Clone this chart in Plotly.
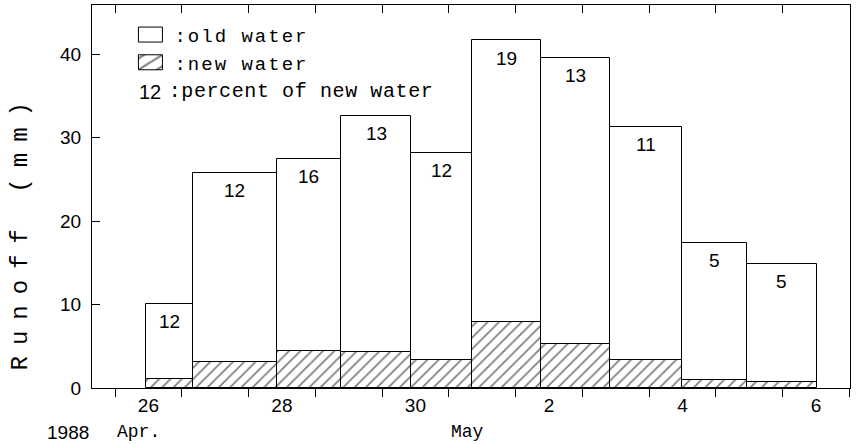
import plotly.graph_objects as go

# ---- data (x in days since 26 Apr 1988 00:00) ----
period_start = [0.46, 1.17, 2.42, 3.39, 4.43, 5.35, 6.38, 7.42, 8.50, 9.47]
period_end   = [1.17, 2.42, 3.39, 4.43, 5.35, 6.38, 7.42, 8.50, 9.47, 10.51]
total_runoff = [10.1, 25.8, 27.5, 32.6, 28.2, 41.7, 39.6, 31.3, 17.4, 14.9]
new_water    = [1.1, 3.1, 4.4, 4.3, 3.3, 7.9, 5.3, 3.4, 0.95, 0.75]
pct_new      = [12, 12, 16, 13, 12, 19, 13, 11, 5, 5]

day_tick_pos    = [0.5, 2.5, 4.5, 6.5, 8.5, 10.5]
day_tick_labels = ["26", "28", "30", "2", "4", "6"]
day_boundaries  = list(range(0, 12))
y_ticks = [0, 10, 20, 30, 40]

centers = [(a + b) / 2 for a, b in zip(period_start, period_end)]
widths = [b - a for a, b in zip(period_start, period_end)]
old_water = [t - n for t, n in zip(total_runoff, new_water)]

NUM_FONT = "Liberation Sans, Arial, sans-serif"
TXT_FONT = "Liberation Mono, DejaVu Sans Mono, monospace"

fig = go.Figure()
fig.add_trace(go.Bar(
    x=centers, y=old_water, base=new_water, width=widths,
    name=":old water",
    marker=dict(color="white", line=dict(color="black", width=1)),
))
fig.add_trace(go.Bar(
    x=centers, y=new_water, base=[0] * len(new_water), width=widths,
    name=":new water",
    marker=dict(color="white", line=dict(color="black", width=1),
                pattern=dict(shape="/", fgcolor="black", bgcolor="white",
                             size=8, solidity=0.22)),
))
# top axis carrier (invisible)
fig.add_trace(go.Scatter(x=[day_boundaries[0]], y=[None], xaxis="x2",
                         showlegend=False, hoverinfo="skip"))

for c, t, p in zip(centers, total_runoff, pct_new):
    fig.add_annotation(x=c, y=t, text=str(p), showarrow=False,
                       yanchor="middle", yshift=-18,
                       font=dict(family=NUM_FONT, size=19, color="black"))

xr = [-0.345, 11.01]
fig.update_layout(
    width=866, height=444,
    margin=dict(l=92, r=16, t=5, b=56),
    paper_bgcolor="white", plot_bgcolor="white",
    barmode="overlay", bargap=0,
    showlegend=True,
    legend=dict(x=0.056, y=0.972, xanchor="left", yanchor="top",
                bgcolor="rgba(0,0,0,0)", borderwidth=0,
                font=dict(family=TXT_FONT, size=19, color="black"),
                itemwidth=30, tracegroupgap=0),
    xaxis=dict(range=xr, tickmode="array", tickvals=day_tick_pos,
               ticktext=day_tick_labels, ticks="", ticklen=0,
               minor=dict(tickmode="array", tickvals=day_boundaries,
                          ticks="outside", ticklen=8, tickcolor="black",
                          showgrid=False),
               showline=True, linecolor="black", linewidth=1,
               showgrid=False, zeroline=False,
               tickfont=dict(family=NUM_FONT, size=19, color="black")),
    xaxis2=dict(range=xr, overlaying="x", side="top", tickmode="array",
                tickvals=day_boundaries, ticks="inside", ticklen=8,
                tickcolor="black", showticklabels=False, showline=True,
                linecolor="black", linewidth=1, showgrid=False,
                zeroline=False),
    yaxis=dict(range=[0, 45.9], tickmode="array", tickvals=y_ticks,
               ticks="inside", ticklen=8, tickcolor="black",
               showline=True, linecolor="black", linewidth=1, mirror=True,
               showgrid=False, zeroline=False, ticklabelstandoff=6,
               tickfont=dict(family=NUM_FONT, size=19, color="black")),
)

# y-axis title
fig.add_annotation(xref="paper", yref="paper", x=0, y=0.41, xshift=-71,
                   text="Runoff (mm)", textangle=-90, showarrow=False,
                   xanchor="center", yanchor="middle",
                   font=dict(family=TXT_FONT, size=24, color="black"))
# date annotations
fig.add_annotation(xref="paper", yref="paper", x=0, y=0, xshift=-1, yshift=-44,
                   text="1988", showarrow=False, xanchor="right", yanchor="middle",
                   font=dict(family=NUM_FONT, size=19, color="black"))
fig.add_annotation(xref="x", yref="paper", x=day_boundaries[0], y=0, yshift=-44,
                   text="Apr.", showarrow=False, xanchor="left", yanchor="middle",
                   font=dict(family=TXT_FONT, size=18, color="black"))
fig.add_annotation(xref="x", yref="paper", x=day_boundaries[5], y=0, yshift=-44,
                   text="May", showarrow=False, xanchor="left", yanchor="middle",
                   font=dict(family=TXT_FONT, size=18, color="black"))
# third legend line
fig.add_annotation(xref="paper", yref="paper", x=0, y=0.773, xshift=58,
                   text="12", showarrow=False, xanchor="center", yanchor="middle",
                   font=dict(family=NUM_FONT, size=20, color="black"))
fig.add_annotation(xref="paper", yref="paper", x=0, y=0.773, xshift=81,
                   text=":percent of new water", showarrow=False,
                   xanchor="left", yanchor="middle",
                   font=dict(family=TXT_FONT, size=20, color="black"))

post = """
var gd = document.getElementById('{plot_id}');
function sp(){
  document.querySelectorAll('.legend [clip-path]').forEach(function(e){e.removeAttribute('clip-path');});
  document.querySelectorAll('.legendtext').forEach(function(t){t.style.letterSpacing='2px';});
  document.querySelectorAll('.legend path.legendbar, .legend path.legendundefined').forEach(function(p){
    p.setAttribute('transform','translate(16,0) scale(2,1.25)');
    p.style.vectorEffect='non-scaling-stroke';
  });
  document.querySelectorAll('.annotation-text').forEach(function(t){
    if (t.textContent.indexOf('Runoff')===0) t.style.letterSpacing='11px';
    if (t.textContent.indexOf(':percent')===0) t.style.letterSpacing='0.6px';
  });
}
sp();
if (gd && gd.on) gd.on('plotly_afterplot', sp);
"""
fig.write_html("out.html", post_script=post)
